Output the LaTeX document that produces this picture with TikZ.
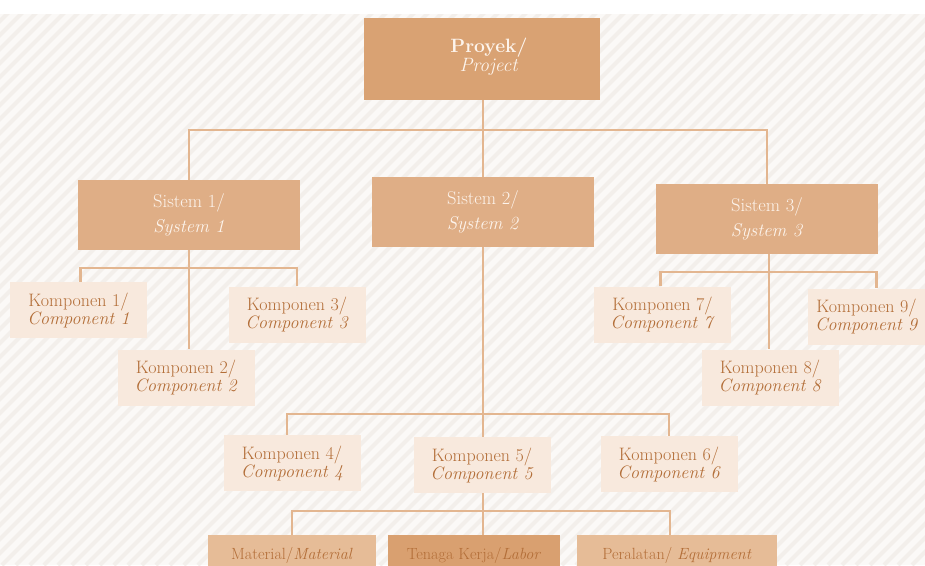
\documentclass[tikz,border=0pt]{standalone}
\usepackage{fontspec}
\definecolor{bgC}{HTML}{FBF9F7}
\definecolor{stripeC}{HTML}{F3EFEB}
\definecolor{lineC}{HTML}{E3B690}
\definecolor{projC}{HTML}{D9A273}
\definecolor{sysC}{HTML}{DFAE86}
\definecolor{compC}{HTML}{F8E9DD}
\definecolor{compT}{HTML}{B36E38}
\definecolor{whiteT}{HTML}{FDF4EC}
\definecolor{resC}{HTML}{E6BC97}
\definecolor{resD}{HTML}{D9A070}
\tikzset{
  box/.style={rectangle, inner sep=0pt, align=center},
  proj/.style={box, fill=projC, text=whiteT, minimum width=236, minimum height=82, font=\fontsize{19.3}{19}\selectfont},
  sysbox/.style={box, fill=sysC, text=whiteT, minimum width=222, minimum height=70, font=\fontsize{18.5}{25}\selectfont},
  comp/.style={box, fill=compC, text=compT, minimum width=137, minimum height=56, font=\fontsize{18}{18}\selectfont},
  res/.style={box, fill=resC, text=compT, minimum height=40, font=\fontsize{16.2}{19}\selectfont},
  resdark/.style={res, fill=resD},
  conn/.style={draw=lineC, line width=2.5pt}
}
\begin{document}
\begin{tikzpicture}[x=1pt,y=-1pt]
\useasboundingbox (0,0) rectangle (925,565);
\begin{scope}
\clip (0,0) rectangle (925,565);
\fill[bgC] (0,0) rectangle (925,565);
\foreach \i in {-600,-586,...,930} \draw[stripeC, line width=4pt] (\i,565) -- (\i+565,0);
\fill[white] (0,0) rectangle (925,14);

\node[proj] (p) at (482,59) {\hspace*{14pt}\textbf{Proyek/}\\\hspace*{14pt}\textit{Project}\rule[-9pt]{0pt}{9pt}};
\node[sysbox] (s1) at (189,215) {Sistem 1/\\\textit{System 1}};
\node[sysbox] (s2) at (483,212) {Sistem 2/\\\textit{System 2}};
\node[sysbox] (s3) at (767,219) {Sistem 3/\\\textit{System 3}};

\node[comp] (k1) at (78.5,310) {Komponen 1/\\\textit{Component 1}};
\node[comp] (k2) at (186,377.5) {Komponen 2/\\\textit{Component 2}};
\node[comp] (k3) at (297,314.5) {Komponen 3/\\\textit{Component 3}};
\node[comp] (k4) at (292,463) {Komponen 4/\\\textit{Component 4}};
\node[comp] (k5) at (482,465) {Komponen 5/\\\textit{Component 5}};
\node[comp] (k6) at (669,464) {Komponen 6/\\\textit{Component 6}};
\node[comp] (k7) at (662.5,314.5) {Komponen 7/\\\textit{Component 7}};
\node[comp] (k8) at (770,377.5) {Komponen 8/\\\textit{Component 8}};
\node[comp, minimum width=117] (k9) at (866.5,316.5) {Komponen 9/\\\textit{Component 9}};

\node[res, minimum width=168] (mat) at (292,555) {Material/\textit{Material}};
\node[resdark, minimum width=172] (ten) at (474,555) {Tenaga Kerja/\textit{Labor}};
\node[res, minimum width=200] (per) at (677,555) {Peralatan/ \textit{Equipment}};

\coordinate (b1) at (483,130);
\coordinate (b2) at (189,268);
\coordinate (b3) at (483,414);
\coordinate (b4) at (483,511);
\coordinate (b5) at (769,272);

\draw[conn] (b1 |- p.south) -- (b1);
\draw[conn] (s1.north) |- (b1) -| (s3.north);
\draw[conn] (b1) -- (b1 |- s2.north);

\draw[conn] (s1.south) -- (s1.south |- k2.north);
\draw[conn] ([xshift=2pt]k1.north) |- (b2) -| (k3.north);

\draw[conn] (b3 |- s2.south) -- (b3 |- k5.north);
\draw[conn] ([xshift=-5pt]k4.north) |- (b3) -| (k6.north);

\draw[conn] (b4 |- k5.south) -- (b4 |- ten.north);
\draw[conn] (mat.north) |- (b4) -| ([xshift=-7pt]per.north);

\draw[conn] (b5 |- s3.south) -- (b5 |- k8.north);
\draw[conn] ([xshift=-2pt]k7.north) |- (b5) -| ([xshift=10pt]k9.north);
\end{scope}
\end{tikzpicture}
\end{document}
